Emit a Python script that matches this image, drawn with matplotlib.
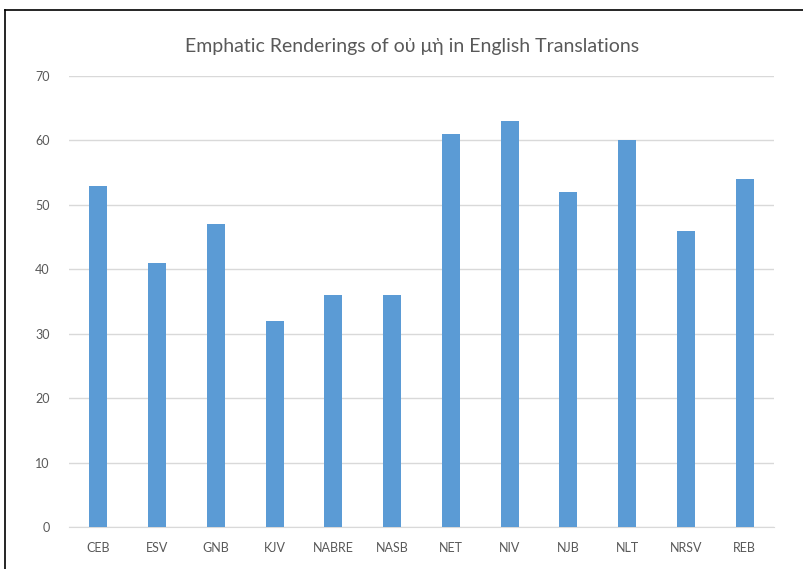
import matplotlib
matplotlib.use("Agg")
import matplotlib.pyplot as plt
from matplotlib.lines import Line2D

translations = ["CEB", "ESV", "GNB", "KJV", "NABRE", "NASB", "NET", "NIV", "NJB", "NLT", "NRSV", "REB"]
counts = [53, 41, 47, 32, 36, 36, 61, 63, 52, 60, 46, 54]
y_ticks = [0, 10, 20, 30, 40, 50, 60, 70]
title = "Emphatic Renderings of οὐ μὴ in English Translations"

plt.rcParams['font.family'] = ['Lato', 'DejaVu Sans']

fig = plt.figure(figsize=(8.04, 5.69), dpi=100)
ax = fig.add_axes([0.0858, 0.0738, 0.8769, 0.7926])

ax.bar(range(len(translations)), counts, width=0.31, color="#5B9BD5", zorder=3)
ax.set_xlim(-0.5, len(translations) - 0.5)
ax.set_ylim(0, 70)
ax.set_yticks(y_ticks)
ax.set_xticks(range(len(translations)))
ax.set_xticklabels(translations)
ax.yaxis.grid(True, color="#D9D9D9", linewidth=1)
ax.set_axisbelow(True)
for s in ["top", "right", "left"]:
    ax.spines[s].set_visible(False)
ax.spines["bottom"].set_color("#D9D9D9")
ax.tick_params(length=0, colors="#595959", labelsize=9)
ax.tick_params(axis="x", pad=11)
ax.tick_params(axis="y", pad=14)

fig.text(0.513, 0.918, title, ha="center", va="center", fontsize=14, color="#595959",
         family=['Lato', 'DejaVu Sans'])

# frame of the chart object (top and left edges visible)
fig.add_artist(Line2D([0.006, 1.0], [0.982, 0.982], color="black", linewidth=1.2))
fig.add_artist(Line2D([0.006, 0.006], [0.0, 0.982], color="black", linewidth=1.2))

fig.savefig("out.png", dpi=100)
